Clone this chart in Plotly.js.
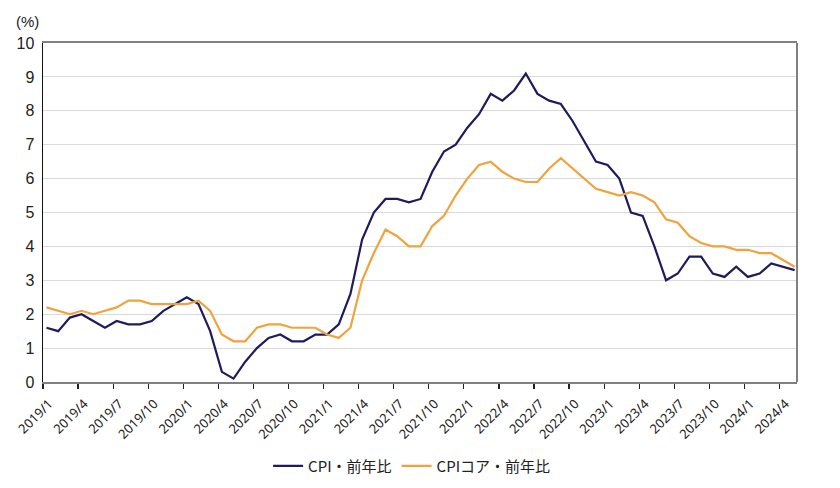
<!DOCTYPE html>
<html>
<head>
<meta charset="utf-8">
<script src="https://cdn.plot.ly/plotly-3.0.1.min.js"></script>
<style>html,body{margin:0;padding:0;background:#fff;}</style>
</head>
<body>
<div id="chart" style="width:840px;height:488px;"></div>
<script>
const months = [
 "2019/1","2019/2","2019/3","2019/4","2019/5","2019/6","2019/7","2019/8","2019/9","2019/10","2019/11","2019/12",
 "2020/1","2020/2","2020/3","2020/4","2020/5","2020/6","2020/7","2020/8","2020/9","2020/10","2020/11","2020/12",
 "2021/1","2021/2","2021/3","2021/4","2021/5","2021/6","2021/7","2021/8","2021/9","2021/10","2021/11","2021/12",
 "2022/1","2022/2","2022/3","2022/4","2022/5","2022/6","2022/7","2022/8","2022/9","2022/10","2022/11","2022/12",
 "2023/1","2023/2","2023/3","2023/4","2023/5","2023/6","2023/7","2023/8","2023/9","2023/10","2023/11","2023/12",
 "2024/1","2024/2","2024/3","2024/4","2024/5"
];
const cpi = [
 1.6,1.5,1.9,2.0,1.8,1.6,1.8,1.7,1.7,1.8,2.1,2.3,
 2.5,2.3,1.5,0.3,0.1,0.6,1.0,1.3,1.4,1.2,1.2,1.4,
 1.4,1.7,2.6,4.2,5.0,5.4,5.4,5.3,5.4,6.2,6.8,7.0,
 7.5,7.9,8.5,8.3,8.6,9.1,8.5,8.3,8.2,7.7,7.1,6.5,
 6.4,6.0,5.0,4.9,4.0,3.0,3.2,3.7,3.7,3.2,3.1,3.4,
 3.1,3.2,3.5,3.4,3.3
];
const core = [
 2.2,2.1,2.0,2.1,2.0,2.1,2.2,2.4,2.4,2.3,2.3,2.3,
 2.3,2.4,2.1,1.4,1.2,1.2,1.6,1.7,1.7,1.6,1.6,1.6,
 1.4,1.3,1.6,3.0,3.8,4.5,4.3,4.0,4.0,4.6,4.9,5.5,
 6.0,6.4,6.5,6.2,6.0,5.9,5.9,6.3,6.6,6.3,6.0,5.7,
 5.6,5.5,5.6,5.5,5.3,4.8,4.7,4.3,4.1,4.0,4.0,3.9,
 3.9,3.8,3.8,3.6,3.4
];
const seriesNames = ["CPI・前年比", "CPIコア・前年比"];
const yTicks = [0,1,2,3,4,5,6,7,8,9,10];

const pos = months.map((m, i) => i + 0.3);
const tickIdx = months.map((m, i) => i).filter(i => i % 3 === 0);

const traces = [
 {x: pos, y: cpi, name: seriesNames[0], type: "scatter", mode: "lines",
  line: {color: "#1e1b5e", width: 2.2}},
 {x: pos, y: core, name: seriesNames[1], type: "scatter", mode: "lines",
  line: {color: "#f0a33c", width: 2.2}}
];

const layout = {
 width: 840, height: 488,
 margin: {l: 43, r: 43, t: 43, b: 106, autoexpand: false},
 paper_bgcolor: "#fff", plot_bgcolor: "#fff",
 showlegend: true,
 legend: {orientation: "h", xref: "container", yref: "container", x: 0.49, xanchor: "center", y: 0.045, yanchor: "middle",
  font: {family: "Noto Sans CJK JP, Noto Sans, sans-serif", size: 15, color: "#222"},
  traceorder: "normal"},
 xaxis: {
  range: [0, 64.5], showgrid: false, zeroline: false, automargin: false,
  tickmode: "array", tickvals: tickIdx, ticktext: tickIdx.map(i => months[i]),
  tickangle: -45, ticks: "outside", ticklen: 5, tickwidth: 1.2, tickcolor: "#222",
  showline: true, linecolor: "#808080", linewidth: 2, mirror: true,
  ticklabelshift: 6, ticklabelstandoff: 2,
  tickfont: {family: "Noto Sans, sans-serif", size: 13, color: "#222"}
 },
 yaxis: {
  range: [0, 10], tickvals: yTicks, showgrid: true, gridcolor: "#d9d9d9", gridwidth: 1,
  zeroline: false, showline: true, linecolor: "#111", linewidth: 1.5, ticks: "", automargin: false,
  tickfont: {family: "Liberation Sans, Arial, sans-serif", size: 16, color: "#222"},
  ticklabelstandoff: 4
 },
 shapes: [
  {type: "line", xref: "paper", yref: "paper", x0: 1, x1: 1, y0: 0, y1: 1,
   line: {color: "#808080", width: 2}}
 ],
 annotations: [
  {text: "(%)", xref: "paper", yref: "paper", x: -0.021, y: 1.062, xanchor: "center", yanchor: "middle",
   showarrow: false, font: {family: "Liberation Sans, Arial, sans-serif", size: 15, color: "#222"}}
 ]
};

Plotly.newPlot("chart", traces, layout, {displayModeBar: false, staticPlot: true});
</script>
</body>
</html>
